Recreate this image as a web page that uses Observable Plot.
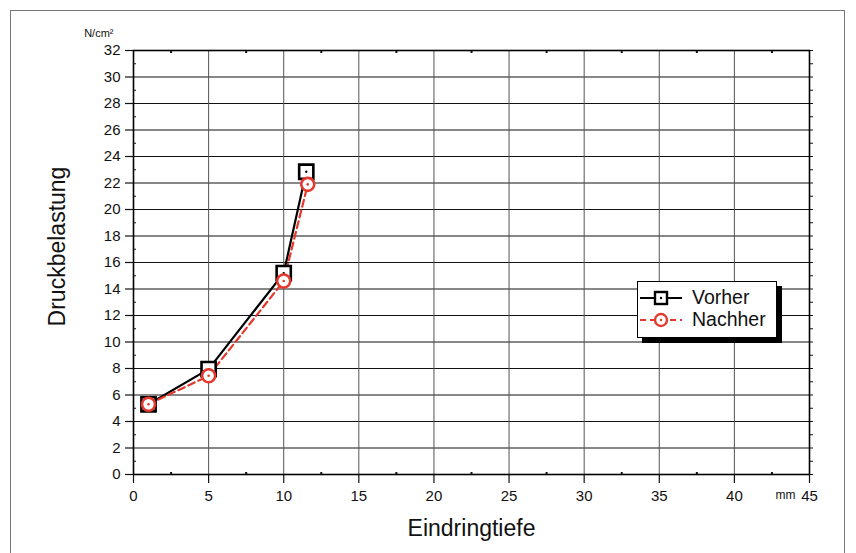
<!DOCTYPE html>
<html>
<head>
<meta charset="utf-8">
<script src="https://cdn.jsdelivr.net/npm/d3@7"></script>
<script src="https://cdn.jsdelivr.net/npm/@observablehq/plot@0.6"></script>
<style>
  html, body { margin: 0; padding: 0; background: #fff; }
  #wrap { position: relative; width: 856px; height: 553px; overflow: hidden; font-family: "Liberation Sans", Arial, sans-serif; }
  #border { position: absolute; left: 10px; top: 10px; width: 835px; height: 560px; border: 1px solid #777; box-sizing: border-box; }
  #chart { position: absolute; left: 0; top: 0; }
  #legend { position: absolute; left: 637px; top: 281px; width: 140px; height: 57px; box-sizing: border-box;
            border: 1.5px solid #000; background: #fff; box-shadow: 5px 5px 0 #000; }
  .li { position: absolute; left: 2px; display: flex; align-items: center; font-size: 19.5px; color: #111; }
  .li svg { margin-right: 10px; }
</style>
</head>
<body>
<div id="wrap">
  <div id="border"></div>
  <div id="chart"></div>
  <div id="legend"></div>
</div>
<script>
// ---- data ----
const seriesNames = ["Vorher", "Nachher"];
const vorherX = [1, 5, 10, 11.5];
const vorherY = [5.3, 7.95, 15.2, 22.85];
const nachherX = [1, 5, 10, 11.6];
const nachherY = [5.3, 7.45, 14.6, 21.9];
const xTicks = [0, 5, 10, 15, 20, 25, 30, 35, 40, 45];
const xMinorTicks = [2.5, 7.5, 12.5, 17.5, 22.5, 27.5, 32.5, 37.5, 42.5];
const yTicks = [0, 2, 4, 6, 8, 10, 12, 14, 16, 18, 20, 22, 24, 26, 28, 30, 32];
const yMinorTicks = [1, 3, 5, 7, 9, 11, 13, 15, 17, 19, 21, 23, 25, 27, 29, 31];
const yAllTicks = [...yTicks, ...yMinorTicks];
const xLabel = "Eindringtiefe";
const yLabel = "Druckbelastung";
const xUnit = "mm";
const yUnit = "N/cm²";
const xDomain = [0, 45];
const yDomain = [0, 32];

const red = "#e5392d";
const vorher = vorherX.map((x, i) => ({x, y: vorherY[i]}));
const nachher = nachherX.map((x, i) => ({x, y: nachherY[i]}));

const chart = Plot.plot({
  width: 856,
  height: 553,
  marginLeft: 133,
  marginRight: 47,
  marginTop: 50,
  marginBottom: 79,
  style: {fontFamily: "'Liberation Sans', Arial, sans-serif", fontSize: "15px", color: "#111", background: "transparent"},
  x: {domain: xDomain},
  y: {domain: yDomain},
  marks: [
    Plot.gridY(yTicks, {stroke: "#111", strokeOpacity: 1, strokeWidth: 1}),
    Plot.gridX(xTicks, {stroke: "#555", strokeOpacity: 1, strokeWidth: 1}),
    Plot.frame({stroke: "#000", strokeWidth: 1.6}),
    // left axis: major outward, minor inward
    Plot.axisY(yTicks, {anchor: "left", tickSize: 8, tickPadding: 5, label: null, fontSize: 15, strokeWidth: 1.2}),
    Plot.axisY(yMinorTicks, {anchor: "left", tickSize: -3, text: null, label: null}),
    // right axis: small outward ticks
    Plot.axisY(yAllTicks, {anchor: "right", tickSize: 3, text: null, label: null}),
    // bottom axis
    Plot.axisX(xTicks, {anchor: "bottom", tickSize: 9, tickPadding: 7, label: null, fontSize: 15, strokeWidth: 1.2}),
    Plot.axisX(xMinorTicks, {anchor: "bottom", tickSize: -2, text: null, label: null, strokeWidth: 2}),
    Plot.axisX(xMinorTicks, {anchor: "top", tickSize: -2, text: null, label: null, strokeWidth: 2}),
    // unit labels
    Plot.text([xUnit], {x: () => xDomain[1], frameAnchor: "bottom", dy: 24, dx: -14, textAnchor: "end", fontSize: 12, text: d => d}),
    Plot.text([yUnit], {y: () => yDomain[1], frameAnchor: "left", dx: -20, dy: -17, textAnchor: "end", fontSize: 11, text: d => d}),
    // axis titles
    Plot.text([yLabel], {frameAnchor: "left", textAnchor: "middle", rotate: -90, dx: -76, dy: -16, fontSize: 23, text: d => d}),
    Plot.text([xLabel], {frameAnchor: "bottom", textAnchor: "middle", dy: 61, fontSize: 23, text: d => d}),
    // series
    Plot.line(vorher, {x: "x", y: "y", stroke: "#000", strokeWidth: 2.2}),
    Plot.line(nachher, {x: "x", y: "y", stroke: red, strokeWidth: 2.2, strokeDasharray: "7,4"}),
    Plot.dot(vorher, {x: "x", y: "y", symbol: "square", r: 8, stroke: "#000", strokeWidth: 2.6, fill: "#fff"}),
    Plot.dot(vorher, {x: "x", y: "y", r: 1.2, fill: "#000"}),
    Plot.dot(nachher, {x: "x", y: "y", r: 6.5, stroke: red, strokeWidth: 2.6, fill: "#fff"}),
    Plot.dot(nachher, {x: "x", y: "y", r: 1.3, fill: red})
  ]
});
document.getElementById("chart").appendChild(chart);

// legend
const legend = document.getElementById("legend");
const styles = [
  {stroke: "#000", dash: null, symbol: "square"},
  {stroke: red, dash: "6,4", symbol: "circle"}
];
seriesNames.forEach((name, i) => {
  const s = styles[i];
  const div = document.createElement("div");
  div.className = "li";
  div.style.top = (4 + i * 22) + "px";
  const sym = s.symbol === "square"
    ? `<rect x="15" y="4" width="12" height="12" fill="#fff" stroke="${s.stroke}" stroke-width="2.4"/>`
    : `<circle cx="21" cy="10" r="6" fill="#fff" stroke="${s.stroke}" stroke-width="2.4"/>`;
  div.innerHTML = `<svg width="42" height="20">
    <line x1="0" x2="42" y1="10" y2="10" stroke="${s.stroke}" stroke-width="2.2" ${s.dash ? `stroke-dasharray="${s.dash}"` : ""}/>
    ${sym}<circle cx="21" cy="10" r="1.2" fill="${s.stroke}"/></svg><span>${name}</span>`;
  legend.appendChild(div);
});
</script>
</body>
</html>
